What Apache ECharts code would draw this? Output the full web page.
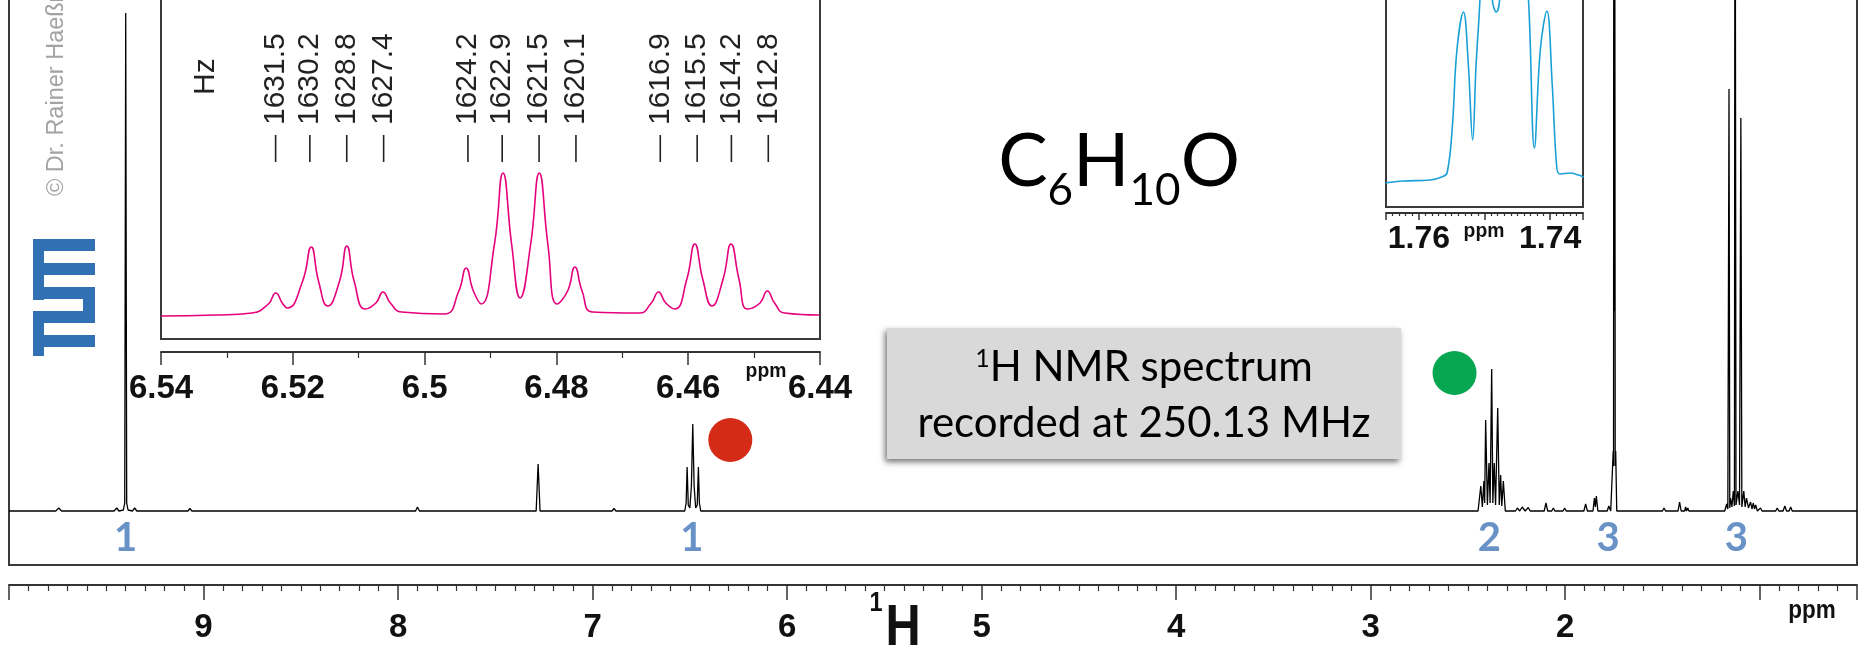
<!DOCTYPE html>
<html>
<head>
<meta charset="utf-8">
<title>C6H10O - 1H NMR</title>
<script src="https://cdn.jsdelivr.net/npm/echarts/dist/echarts.min.js"></script>
<style>
html, body { margin: 0; padding: 0; background: #fff; }
#chart { width: 1865px; height: 650px; }
</style>
</head>
<body>
<div id="chart"></div>
<script>
// spectrometer frequency (MHz)
var specFreq = 250.13;

// full spectrum, [ppm, intensity] (baseline = 0)
var mainTrace = [
	[10.0, 0], [9.76, 0], [9.744, 3], [9.73, 0],
	[9.46, 0], [9.446, 3], [9.435, 0], [9.412, 1], [9.405, 8], [9.400, 498], [9.395, 8], [9.388, 1], [9.366, 0], [9.354, 3], [9.343, 0],
	[9.08, 0], [9.07, 2.5], [9.06, 0],
	[8.90, 0], [8.89, 2], [8.88, 0],
	[7.91, 0], [7.90, 4], [7.89, 0],
	[7.29, 0], [7.28, 47], [7.27, 0],
	[6.90, 0], [6.89, 2.5], [6.88, 0],
	[6.526, 0], [6.519, 8], [6.514, 44], [6.508, 6], [6.500, 3], [6.492, 25], [6.485, 87], [6.478, 25], [6.470, 3], [6.462, 6], [6.456, 44], [6.451, 8], [6.444, 0],
	[2.448, 0], [2.434, 25], [2.426, 4], [2.418, 30], [2.414, 8], [2.409, 91], [2.400, 6], [2.392, 48], [2.386, 8], [2.378, 142], [2.372, 8], [2.365, 48], [2.358, 6], [2.347, 103], [2.339, 6], [2.332, 36], [2.326, 5], [2.318, 30], [2.308, 0],
	[2.256, 0], [2.246, 3], [2.234, 0], [2.221, 4], [2.206, 0], [2.190, 3.5], [2.180, 0],
	[2.108, 0], [2.099, 8], [2.090, 0], [2.069, 0], [2.061, 3], [2.053, 0], [2.011, 0], [2.003, 3], [1.995, 0],
	[1.904, 0], [1.895, 7], [1.886, 0], [1.857, 0], [1.850, 13], [1.845, 4], [1.840, 15], [1.832, 0],
	[1.784, 0], [1.776, 5], [1.766, 0], [1.758, 0], [1.7532, 60], [1.7515, 45], [1.7500, 900], [1.7480, 200], [1.7460, 900], [1.7430, 45], [1.7405, 60], [1.735, 0],
	[1.500, 0], [1.492, 3], [1.484, 0], [1.420, 0], [1.412, 9], [1.404, 0], [1.386, 0], [1.381, 4], [1.376, 0], [1.370, 3], [1.364, 0],
	[1.180, 0], [1.170, 7], [1.164, 2], [1.158, 422], [1.154, 3], [1.150, 13], [1.143, 4], [1.136, 20], [1.130, 5], [1.127, 850], [1.122, 6], [1.112, 20], [1.104, 6], [1.097, 393], [1.092, 4], [1.082, 20], [1.075, 4], [1.068, 13], [1.058, 3], [1.047, 9], [1.040, 2], [1.033, 8], [1.027, 2], [1.021, 6], [1.012, 0],
	[1.003, 0], [0.996, 3], [0.988, 0], [0.977, 0], [0.970, 2], [0.962, 0], [0.951, 0], [0.944, 2], [0.936, 0],
	[0.918, 0], [0.910, 3], [0.902, 0], [0.880, 0], [0.871, 5], [0.862, 0], [0.849, 0], [0.841, 4], [0.833, 0],
	[0.5, 0]
];

// expansion of the 6.48 ppm multiplet
var insetTrace = [
	[6.5400, -1], [6.5318, 0], [6.5262, 2], [6.5237, 11], [6.5226, 22], [6.5215, 11], [6.5208, 7],
	[6.5185, 34], [6.5172, 68], [6.5161, 34], [6.5147, 9],
	[6.5129, 34], [6.5118, 69], [6.5107, 34], [6.5090, 6],
	[6.5074, 12], [6.5063, 23], [6.5052, 12], [6.5035, 3], [6.4970, 1],
	[6.4948, 24], [6.4937, 47], [6.4926, 24], [6.4914, 11],
	[6.4894, 71], [6.4881, 142], [6.4868, 71], [6.4855, 17],
	[6.4839, 71], [6.4826, 142], [6.4813, 71], [6.4799, 11],
	[6.4783, 24], [6.4772, 48], [6.4761, 24], [6.4745, 3], [6.4674, 2],
	[6.4656, 12], [6.4645, 23], [6.4634, 12], [6.4620, 6],
	[6.4602, 36], [6.4590, 71], [6.4578, 36], [6.4564, 9],
	[6.4547, 36], [6.4535, 71], [6.4523, 36], [6.4510, 6],
	[6.4491, 12], [6.4480, 24], [6.4469, 12], [6.4454, 2], [6.4401, 0]
];

// expansion of the 1.75 ppm signal
var inset2Trace = [
	[1.7651, -5], [1.7624, -3], [1.7583, -2], [1.7565, 1], [1.7557, 5], [1.7549, 51], [1.7542, 128], [1.7532, 166], [1.7525, 118], [1.7518, 38],
	[1.7513, 111], [1.7507, 178], [1.7498, 330], [1.7488, 178], [1.7482, 166], [1.7477, 178], [1.7456, 400], [1.7433, 178],
	[1.7424, 30], [1.7415, 128], [1.7405, 167], [1.7397, 95], [1.7390, 11], [1.7385, 4], [1.7369, 5], [1.7357, 3], [1.7349, 1]
];

// line positions of the multiplet in Hz
var hzLabels = [1631.5, 1630.2, 1628.8, 1627.4, 1624.2, 1622.9, 1621.5, 1620.1, 1616.9, 1615.5, 1614.2, 1612.8];

// integrals
var intNames = ['1', '1', '2', '3', '3'];
var intPpm = [9.40, 6.49, 2.39, 1.78, 1.12];

// coloured markers
var dotPpm = [6.292, 2.569];
var dotInt = [71, 138];
var dotColor = ['#d42b17', '#07a650'];

var tickCol = '#333';
var axisFont = 'Liberation Sans';

var chart = echarts.init(document.getElementById('chart'));

var hzData = [];
for(var i=0; i<hzLabels.length; i++){
	hzData.push([hzLabels[i] / specFreq, 166.5, hzLabels[i]]);
}
var intData = [];
for(var i=0; i<intNames.length; i++){
	intData.push({name: intNames[i], value: [intPpm[i], -27]});
}
var dotData = [];
for(var i=0; i<dotPpm.length; i++){
	dotData.push({value: [dotPpm[i], dotInt[i]], itemStyle: {color: dotColor[i], opacity: 1}});
}

function xAxisBase(grid, min, max, split, offset, tickLen, minorSplit, minorLen, margin, fontSize, fmt){
	return {
		gridIndex: grid,
		type: 'value',
		inverse: true,
		min: min,
		max: max,
		splitNumber: split,
		offset: offset,
		splitLine: {show: false},
		axisLine: {onZero: false, lineStyle: {color: tickCol, width: 2}},
		axisTick: {length: tickLen, lineStyle: {color: tickCol, width: 1.5}},
		minorTick: {show: true, splitNumber: minorSplit, length: minorLen, lineStyle: {color: tickCol, width: 1.2}},
		minorSplitLine: {show: false},
		axisLabel: {
			margin: margin,
			fontFamily: axisFont,
			fontWeight: 'bold',
			fontSize: fontSize,
			color: '#111',
			showMinLabel: true,
			showMaxLabel: true,
			formatter: fmt
		}
	};
}

var logoRects = [
	[33, 239, 11, 61], [33, 239, 62, 12], [44, 263, 51, 12], [44, 287, 51, 12],
	[83, 287, 12, 36], [33, 311, 62, 12], [33, 311, 11, 45], [44, 335, 51, 12]
];
var graphicEls = [];
for(var i=0; i<logoRects.length; i++){
	graphicEls.push({
		type: 'rect',
		shape: {x: logoRects[i][0], y: logoRects[i][1], width: logoRects[i][2], height: logoRects[i][3]},
		style: {fill: '#3070b3'}
	});
}

function txt(x, y, text, font, color, align, vAlign, rot, sx){
	return {
		type: 'text', x: x, y: y, rotation: rot || 0, scaleX: sx || 1,
		style: {text: text, font: font, fill: color,
			align: align, verticalAlign: vAlign, textAlign: align, textVerticalAlign: vAlign}
	};
}

graphicEls.push(txt(57, 196, '\u00a9 Dr. Rainer Hae\u00dfner', '23.5px "Liberation Sans"', '#a3a3a3', 'left', 'middle', Math.PI / 2));
graphicEls.push(txt(206, 95, 'Hz', '30px "Liberation Sans"', '#222', 'left', 'middle', Math.PI / 2));

// formula
graphicEls.push({
	type: 'text', x: 1119, y: 125,
	style: {
		text: '{m|C}{s|6}{m|H}{s|10}{m|O}',
		fill: '#000',
		align: 'center', verticalAlign: 'top', textAlign: 'center', textVerticalAlign: 'top',
		rich: {
			m: {fontSize: 74, fontFamily: 'Lato', lineHeight: 74, verticalAlign: 'top'},
			s: {fontSize: 44, fontFamily: 'Lato', lineHeight: 88, verticalAlign: 'bottom'}
		}
	}
});

// info box
graphicEls.push({
	type: 'rect',
	shape: {x: 887, y: 328, width: 514, height: 131},
	style: {fill: '#d9d9d9', shadowBlur: 6, shadowOffsetX: -2, shadowOffsetY: 3, shadowColor: 'rgba(0,0,0,0.55)'}
});
graphicEls.push({
	type: 'text', x: 1144, y: 367,
	style: {
		text: '{s|1}{n|H NMR spectrum}',
		fill: '#000',
		align: 'center', verticalAlign: 'middle', textAlign: 'center', textVerticalAlign: 'middle',
		rich: {
			s: {fontSize: 25, fontFamily: 'Lato', lineHeight: 25, verticalAlign: 'top'},
			n: {fontSize: 42, fontFamily: 'Lato', lineHeight: 42}
		}
	}
});
graphicEls.push(txt(1144, 423, 'recorded at 250.13 MHz', '42px Lato', '#000', 'center', 'middle'));

// axis unit labels
graphicEls.push(txt(1812, 611, 'ppm', 'bold 25px "Liberation Sans"', '#111', 'center', 'middle', 0, 0.9));
graphicEls.push(txt(766, 371, 'ppm', 'bold 21px "Liberation Sans"', '#111', 'center', 'middle', 0, 0.92));
graphicEls.push(txt(1484, 231, 'ppm', 'bold 21px "Liberation Sans"', '#111', 'center', 'middle', 0, 0.92));
graphicEls.push(txt(903, 629, 'H', 'bold 58px "Liberation Sans"', '#111', 'center', 'middle', 0, 0.84));
graphicEls.push(txt(876, 603, '1', 'bold 28px "Liberation Sans"', '#111', 'center', 'middle', 0, 0.84));

var options = {
	animation: false,
	backgroundColor: '#fff',
	grid: [
		{left: 9, right: 8, top: -40, bottom: 85, show: true, borderColor: '#3a3a3a', borderWidth: 2, backgroundColor: 'transparent', outerBoundsMode: 'none', containLabel: false},
		{left: 161, right: 1045, top: -40, bottom: 311, show: true, borderColor: '#3a3a3a', borderWidth: 2, backgroundColor: '#fff', outerBoundsMode: 'none', containLabel: false},
		{left: 1386, right: 282, top: -40, bottom: 443, show: true, borderColor: '#3a3a3a', borderWidth: 2, backgroundColor: '#fff', outerBoundsMode: 'none', containLabel: false}
	],
	xAxis: [
		xAxisBase(0, 0.5, 10.0, 10, 20, 15, 10, 6, 26, 33, function(v){
			var r = Math.round(v);
			return (Math.abs(v - r) < 1e-6 && r >= 2 && r <= 9) ? String(r) : '';
		}),
		xAxisBase(1, 6.44, 6.54, 5, 13, 13, 2, 6, 20, 33, function(v){
			return String(+v.toFixed(2));
		}),
		xAxisBase(2, 1.735, 1.765, 3, 6, 7, 10, 3, 10, 32, function(v){
			if(Math.abs(v - 1.76) < 1e-6 || Math.abs(v - 1.74) < 1e-6)
				return v.toFixed(2);
			return '';
		})
	],
	yAxis: [
		{gridIndex: 0, type: 'value', show: false, min: -54, max: 551},
		{gridIndex: 1, type: 'value', show: false, min: -24, max: 355},
		{gridIndex: 2, type: 'value', show: false, min: -29, max: 218}
	],
	series: [
		{
			type: 'line', xAxisIndex: 0, yAxisIndex: 0,
			data: mainTrace, symbol: 'none', clip: true,
			lineStyle: {color: '#000', width: 1.3}
		},
		{
			type: 'line', xAxisIndex: 1, yAxisIndex: 1,
			data: insetTrace, symbol: 'none', clip: true, smooth: 0.5,
			lineStyle: {color: '#e5007d', width: 1.6}
		},
		{
			type: 'line', xAxisIndex: 2, yAxisIndex: 2,
			data: inset2Trace, symbol: 'none', clip: true, smooth: 0.4,
			lineStyle: {color: '#1aa0d8', width: 1.6}
		},
		{
			type: 'scatter', xAxisIndex: 1, yAxisIndex: 1,
			data: hzData, symbol: 'rect', symbolSize: [1.6, 27],
			itemStyle: {color: '#222', opacity: 1},
			label: {
				show: true, position: 'top', distance: 10, rotate: 90,
				align: 'left', verticalAlign: 'middle',
				fontFamily: 'Liberation Sans', fontSize: 30, color: '#222',
				formatter: function(p){ return p.value[2].toFixed(1); }
			}
		},
		{
			type: 'scatter', xAxisIndex: 0, yAxisIndex: 0,
			data: intData, symbolSize: 1, itemStyle: {color: 'rgba(0,0,0,0)'},
			label: {
				show: true, position: 'inside', formatter: '{b}',
				fontFamily: 'Lato', fontWeight: 'bold', fontSize: 40, color: '#4377b8'
			}
		},
		{
			type: 'scatter', xAxisIndex: 0, yAxisIndex: 0,
			data: dotData, symbolSize: 44
		}
	],
	graphic: {elements: graphicEls}
};

chart.setOption(options);

window.onresize = function(event) {
	chart.resize();
}
</script>
</body>
</html>
